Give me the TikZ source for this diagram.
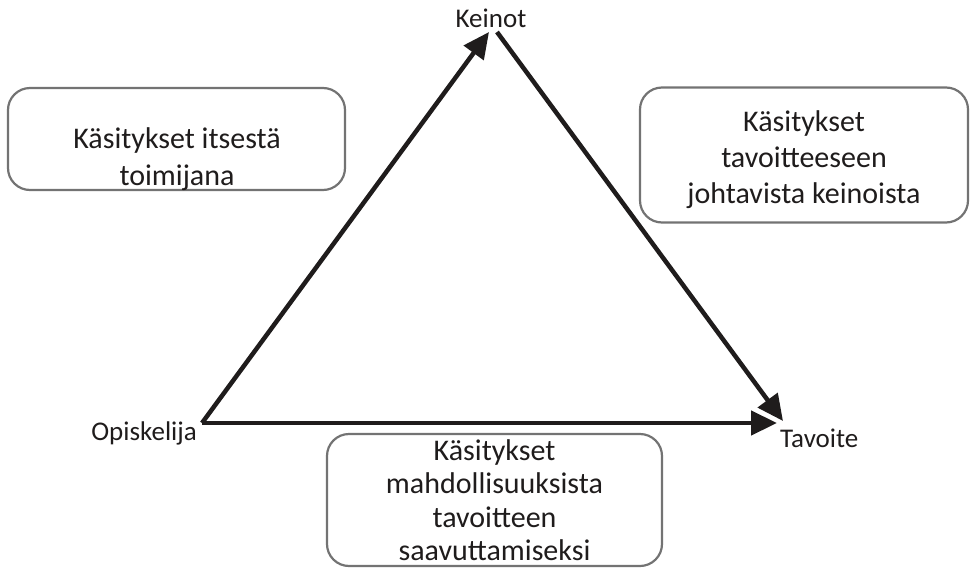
\documentclass[tikz,border=0pt]{standalone}
\usepackage{fontspec}
\setmainfont{Carlito}
\usetikzlibrary{arrows.meta}
\definecolor{boxgray}{rgb}{0.45,0.45,0.45}
\definecolor{inkblack}{rgb}{0.12,0.11,0.11}

\begin{document}
\begin{tikzpicture}[x=1pt,y=-1pt,
	laatikko/.style={draw=boxgray, line width=2.2pt, rounded corners=22pt, inner sep=0pt},
	teksti/.style={align=center, text=inkblack, inner sep=0pt},
	kulma/.style={font=\fontsize{27}{30}\selectfont, text=inkblack, inner sep=0pt},
	nuoli/.style={draw=inkblack, line width=4.5pt, -{Triangle[length=26pt,width=24pt]}}]
			\useasboundingbox (0,0) rectangle (970,568);
			\coordinate (O) at (202,423);
			\coordinate (K-in) at (489,32);
			\coordinate (K-out) at (497,32);
			\coordinate (T-diag) at (783,421);
			\coordinate (T-horiz) at (777,423);
			%Corner labels
			\node[kulma] (keinot) at (491,18) {Keinot};
			\node[kulma, anchor=east] (opiskelija) at (197,433) {Opiskelija};
			\node[kulma, anchor=west] (tavoite) at (780,438) {Tavoite};
			%Triangle
			\draw[nuoli] (O) -- (K-in);
			\draw[nuoli] (K-out) -- (T-diag);
			\draw[nuoli] (O) -- (T-horiz);
			%Boxes
			\node[laatikko, minimum width=337pt, minimum height=102pt] (itse) at (176.5,139) {};
			\node[teksti, font=\fontsize{30}{37}\selectfont] (itse-t) at (177,159) {Käsitykset itsestä\\toimijana};
			\node[laatikko, minimum width=328pt, minimum height=135pt] (keinoista) at (804,155) {};
			\node[teksti, font=\fontsize{30}{36}\selectfont] (keinoista-t) at (804,160) {Käsitykset\\tavoitteeseen\\johtavista keinoista};
			\node[laatikko, minimum width=335pt, minimum height=132pt] (mahdollisuus) at (494.5,500) {};
			\node[teksti, font=\fontsize{30}{33.5}\selectfont] (mahdollisuus-t) at (494.5,500) {Käsitykset\\mahdollisuuksista\\tavoitteen\\saavuttamiseksi};
		\end{tikzpicture}
\end{document}
